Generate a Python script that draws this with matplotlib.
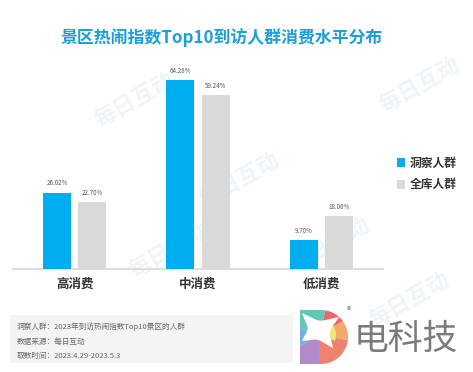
import numpy as np
import matplotlib.pyplot as plt
from matplotlib.patches import Rectangle, Wedge, PathPatch, Polygon
from matplotlib.path import Path

plt.rcParams['font.family'] = ['Noto Sans CJK SC', 'DejaVu Sans']

# データ
categories = ['高消费', '中消费', '低消费']
insight_vals = [26.02, 64.28, 9.70]
all_vals = [22.70, 59.24, 18.06]
series_names = ['洞察人群', '全库人群']
title = '景区热闹指数Top10到访人群消费水平分布'
footer_lines = ['洞察人群：2023年到访热闹指数Top10景区的人群',
                '数据来源：每日互动',
                '取数时间：2023.4.29-2023.5.3']

W, H = 473, 372
BLUE = '#00aeef'
GREY = '#d9d9d9'

fig = plt.figure(figsize=(W / 100, H / 100), dpi=100)
fig.patch.set_facecolor('white')


def px_rect(x0, y0, x1, y1):
    """ピクセル座標(左上原点)をfigure座標へ"""
    return [x0 / W, 1 - y1 / H, (x1 - x0) / W, (y1 - y0) / H]


# 背景用の全面Axes（透かし・フッター・ロゴ）
bg = fig.add_axes([0, 0, 1, 1])
bg.set_xlim(0, W)
bg.set_ylim(H, 0)
bg.axis('off')

# 透かし「每日互动」
for (wx, wy) in [(135, 100), (240, 180), (330, 245), (410, 300), (170, 250), (420, 85)]:
    bg.text(wx, wy, '每日互动', fontsize=16, color='#edf5fb', rotation=30,
            ha='center', va='center', fontweight='bold', zorder=0)

# タイトル
bg.text(222, 38, title, fontsize=12.2, fontweight='bold', color='#1a9fd9',
        ha='center', va='center')

# フッター
bg.add_patch(Rectangle((10, 315), 283, 48, facecolor='#f4f4f4', edgecolor='none', zorder=1))
for i, line in enumerate(footer_lines):
    bg.text(17, 327 + i * 14.5, line, fontsize=5.5, color='#666666',
            ha='left', va='center', zorder=2)

# ロゴ（D型）
cx, cy, r = 321, 337, 27
theta = np.linspace(-np.pi / 2, np.pi / 2, 40)
verts = [(300, 364), (300, 310), (cx, 310)]
verts += [(cx + r * np.cos(t), cy - r * np.sin(t)) for t in theta[::-1][1:]]
verts += [(300, 364)]
d_patch = PathPatch(Path(verts, closed=True), facecolor='none', edgecolor='none')
bg.add_patch(d_patch)
wc = (319, 335)
wedge_specs = [(75, 160, '#62c8b6'), (30, 75, '#e9676a'), (-10, 30, '#f1aa68'),
               (-90, -10, '#ef8170'), (-150, -90, '#b08ac9'), (160, 210, '#74aee0')]
for a0, a1, col in wedge_specs:
    # y軸反転のため角度を反転
    w = Wedge(wc, 60, -a1, -a0, facecolor=col, edgecolor='none', zorder=3)
    bg.add_patch(w)
    w.set_clip_path(d_patch)
yw = Wedge(wc, 17, -40, 20, facecolor='#f3e67c', edgecolor='none', zorder=3)
bg.add_patch(yw)
yw.set_clip_path(d_patch)

# 白い星形（凹んだ四辺形）
pts = [(302, 313), (339, 317), (333, 348), (302, 341)]
center = np.array([318, 331])
star = []
for i in range(4):
    a = np.array(pts[i])
    b = np.array(pts[(i + 1) % 4])
    for t in np.linspace(0, 1, 12, endpoint=False):
        p = a + (b - a) * t
        p = p + (center - p) * 0.35 * np.sin(np.pi * t)
        star.append(tuple(p))
bg.add_patch(Polygon(star, closed=True, facecolor='white', edgecolor='none', zorder=4))
bg.text(349, 311, '®', fontsize=6, color='#777777', ha='center', va='center', zorder=5)
bg.text(354, 339, '电科技', fontsize=25, color='#7a7a7a', ha='left', va='center', zorder=5)

# メインの棒グラフ
ax = fig.add_axes(px_rect(13, 60, 383, 269))
ax.patch.set_alpha(0)
x = np.arange(len(categories))
bw = 0.227
off = 0.142
b1 = ax.bar(x - off, insight_vals, bw, color=BLUE, label=series_names[0], zorder=3)
b2 = ax.bar(x + off, all_vals, bw, color=GREY, label=series_names[1], zorder=3)
for bars, vals in [(b1, insight_vals), (b2, all_vals)]:
    for b, v in zip(bars, vals):
        ax.text(b.get_x() + b.get_width() / 2, v + 1.8, f'{v:.2f}%',
                ha='center', va='bottom', fontsize=4.5, color='#555555')

ax.set_xlim(-0.5, 2.5)
ax.set_ylim(0, 71.1)
ax.set_xticks(x)
ax.set_xticklabels(categories, fontsize=9, fontweight='bold', color='#333333')
ax.tick_params(axis='x', length=0, pad=6)
ax.set_yticks([])
for s in ['top', 'right', 'left']:
    ax.spines[s].set_visible(False)
ax.spines['bottom'].set_color('#dddddd')
ax.spines['bottom'].set_linewidth(1.5)

# 凡例
fig.legend(handles=[b1, b2], labels=series_names, loc='center left',
           bbox_to_anchor=(386 / W, 1 - 174 / H), frameon=False,
           handlelength=0.75, handleheight=0.75, handletextpad=0.35,
           labelspacing=0.75, prop={'size': 8.5, 'weight': 'bold'},
           labelcolor='#333333')

fig.savefig('out.png', dpi=100)
